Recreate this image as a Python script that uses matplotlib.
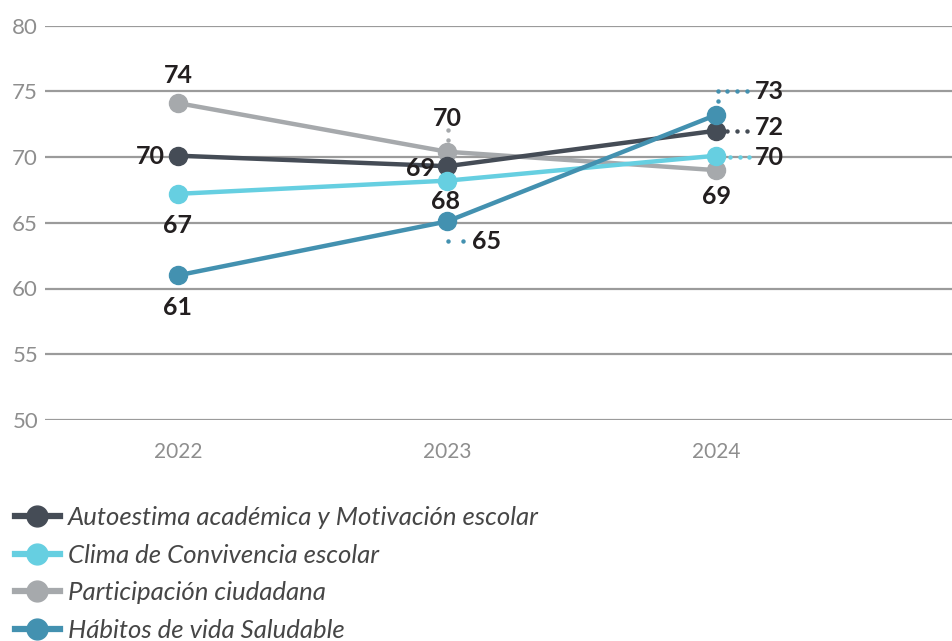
import matplotlib
matplotlib.use("Agg")
import matplotlib.pyplot as plt
from matplotlib.lines import Line2D
from matplotlib.transforms import IdentityTransform

# ---- data ----
years = ["2022", "2023", "2024"]
series_names = [
    "Autoestima académica y Motivación escolar",
    "Clima de Convivencia escolar",
    "Participación ciudadana",
    "Hábitos de vida Saludable",
]
autoestima = [70.1, 69.3, 72.0]
clima = [67.2, 68.2, 70.1]
participacion = [74.1, 70.4, 69.0]
habitos = [61.0, 65.1, 73.2]
yticks = [50, 55, 60, 65, 70, 75, 80]

colors = {
    "aut": "#454c56",
    "cli": "#66cfe1",
    "par": "#a6a9ac",
    "hab": "#4391b0",
}
label_color = "#231f20"
grid_color = "#9b9b9b"
tick_color = "#8e8e8e"

FONT = ["Lato", "DejaVu Sans"]
plt.rcParams["font.family"] = FONT

W, H = 953, 641
DPI = 100
fig = plt.figure(figsize=(W / DPI, H / DPI), dpi=DPI)
ax = fig.add_axes([45 / W, 1 - 420 / H, 1 - 45 / W, (420 - 25.5) / H])

x = list(range(len(years)))
ax.set_xlim(-0.494, 2.88)
ax.set_ylim(50, 80)

for yv in yticks:
    ax.axhline(yv, color=grid_color, lw=1.6, zorder=0)

for s in ax.spines.values():
    s.set_visible(False)
ax.set_yticks(yticks)
ax.set_yticklabels([str(v) for v in yticks])
ax.set_xticks(x)
ax.set_xticklabels(years)
ax.tick_params(axis="both", length=0)
ax.tick_params(axis="y", pad=5, labelsize=16, labelcolor=tick_color)
ax.tick_params(axis="x", pad=16, labelsize=15, labelcolor=tick_color)

lw = 3.2
ms = 13
draw = [
    ("par", participacion, 2),
    ("aut", autoestima, 3),
    ("cli", clima, 4),
    ("hab", habitos, 5),
]
for key, vals, z in draw:
    ax.plot(x, vals, color=colors[key], lw=lw, marker="o", ms=ms,
            solid_capstyle="round", zorder=z)


def lab(xi, yi, txt, dx, dy, ha="center", va="center"):
    ax.annotate(txt, (xi, yi), xytext=(dx, dy), textcoords="offset pixels",
                ha=ha, va=va, fontsize=18, fontweight="bold",
                color=label_color, zorder=10)


def leader(xi, yi, offsets, color):
    # dotted leader: small round dots at pixel offsets from the data point
    px, py = ax.transData.transform((xi, yi))
    xs = [px + o[0] for o in offsets]
    ys = [py + o[1] for o in offsets]
    fig.add_artist(Line2D(xs, ys, transform=IdentityTransform(), color=color,
                          linestyle="none", marker="o", ms=3.2,
                          markeredgewidth=0, zorder=9))


# 2022
lab(0, participacion[0], "74", 0, 28)
lab(0, autoestima[0], "70", -13, -1, ha="right")
lab(0, clima[0], "67", 0, -32)
lab(0, habitos[0], "61", 0, -32)
# 2023
lab(1, participacion[1], "70", 0, 33)
leader(1, participacion[1], [(0.5, 21.5), (0.5, 12)], colors["par"])
lab(1, autoestima[1], "69", -12, -2, ha="right")
lab(1, clima[1], "68", -2, -21)
lab(1, habitos[1], "65", 25, -20, ha="left")
leader(1, habitos[1], [(0.7, -19.5), (16, -19.5)], colors["hab"])
# 2024
lab(2, habitos[2], "73", 39, 23, ha="left")
leader(2, habitos[2], [(1.5, 14), (1.5, 24), (11, 24), (21, 24), (30.7, 24)],
       colors["hab"])
lab(2, autoestima[2], "72", 39, 3, ha="left")
leader(2, autoestima[2], [(11, -0.7), (21, -0.7), (30.7, -0.7)], colors["aut"])
lab(2, clima[2], "70", 39, -2, ha="left")
leader(2, clima[2], [(14, -1), (23.5, -1), (33, -1)], colors["cli"])
lab(2, participacion[2], "69", 0, -26)

# legend
handles = [
    Line2D([], [], color=colors[k], lw=4.5, marker="o", ms=15)
    for k in ["aut", "cli", "par", "hab"]
]
leg = fig.legend(handles, series_names, loc="upper left",
                 bbox_to_anchor=(15 / W, 1 - 506 / H), frameon=False,
                 borderaxespad=0, borderpad=0, handlelength=1.75,
                 handletextpad=0.3, labelspacing=0.57,
                 prop={"family": FONT, "style": "italic", "weight": "normal",
                       "size": 18.5})
for t in leg.get_texts():
    t.set_color("#464646")

fig.savefig("out.png", dpi=DPI)
